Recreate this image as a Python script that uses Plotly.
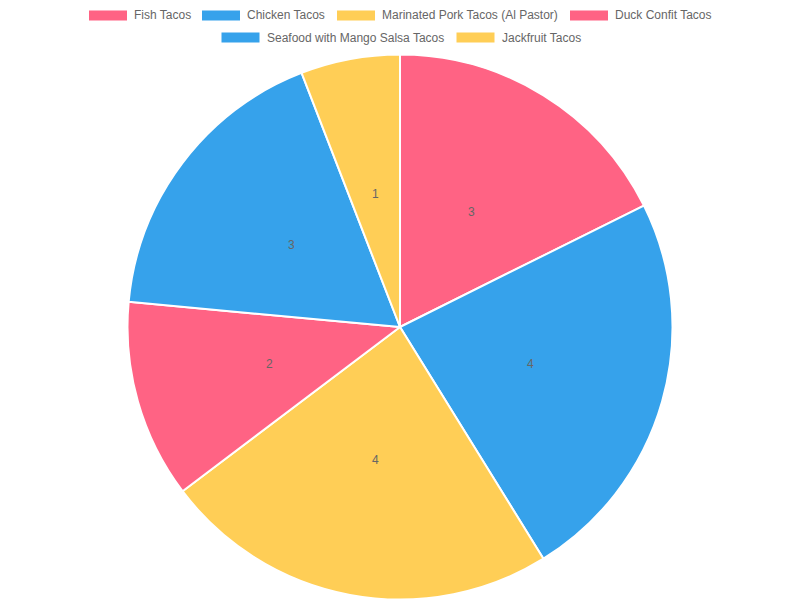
import math
import plotly.graph_objects as go

labels = ["Fish Tacos", "Chicken Tacos", "Marinated Pork Tacos (Al Pastor)",
          "Duck Confit Tacos", "Seafood with Mango Salsa Tacos", "Jackfruit Tacos"]
values = [3, 4, 4, 2, 3, 1]
colors = ["#FF6384", "#36A2EB", "#FFCE56", "#FF6384", "#36A2EB", "#FFCE56"]

W, H = 800, 600
OFF = 8  # page body margin pushes the plot 8px right/down
FONT = dict(family="Liberation Sans, Arial", size=12, color="#666666")

# pie geometry in figure pixels
cx, cy, rad = 400 - OFF, 327 - OFF, 271

fig = go.Figure(go.Pie(
    labels=labels,
    values=values,
    marker=dict(colors=colors, line=dict(color="white", width=2)),
    sort=False,
    direction="clockwise",
    rotation=0,
    textinfo="none",
    hoverinfo="label+value",
    showlegend=False,
    domain=dict(x=[(cx - rad - 10) / W, (cx + rad + 10) / W],
                y=[1 - (cy + rad + 1.5) / H, 1 - (cy - rad - 1.5) / H]),
))

annotations = []

# value labels at half radius, mid-angle of each slice (chart.js datalabels look)
total = sum(values)
cum = 0
for v in values:
    mid = (cum + v / 2) / total * 2 * math.pi
    cum += v
    px = cx + rad / 2 * math.sin(mid)
    py = cy - rad / 2 * math.cos(mid)
    annotations.append(dict(text=str(v), x=px / W, y=1 - py / H, xref="paper", yref="paper",
                            xanchor="center", yanchor="middle", showarrow=False, font=FONT))

# legend drawn by hand, chart.js style: wide boxes, two centred rows
text_w = [56, 78, 176, 96, 178, 77]
rows = [[0, 1, 2, 3], [4, 5]]
row_y = [15.5 - OFF, 37.5 - OFF]
box_w, box_h, gap, pad = 38, 10, 7, 12

shapes = []
for r, idxs in enumerate(rows):
    width = sum(box_w + gap + text_w[i] for i in idxs) + pad * (len(idxs) - 1)
    x = (W - width) / 2 - OFF
    y = row_y[r]
    for i in idxs:
        shapes.append(dict(type="rect", xref="paper", yref="paper",
                           x0=x / W, x1=(x + box_w) / W,
                           y0=1 - (y - box_h / 2) / H, y1=1 - (y + box_h / 2) / H,
                           fillcolor=colors[i], line=dict(width=0)))
        annotations.append(dict(text=labels[i], x=(x + box_w + gap - 2) / W, y=1 - y / H,
                                xref="paper", yref="paper", xanchor="left", yanchor="middle",
                                showarrow=False, font=FONT))
        x += box_w + gap + text_w[i] + pad

fig.update_layout(
    width=W, height=H,
    margin=dict(l=0, r=0, t=0, b=0),
    paper_bgcolor="white",
    plot_bgcolor="white",
    shapes=shapes,
    annotations=annotations,
)

fig.write_html("out.html")
